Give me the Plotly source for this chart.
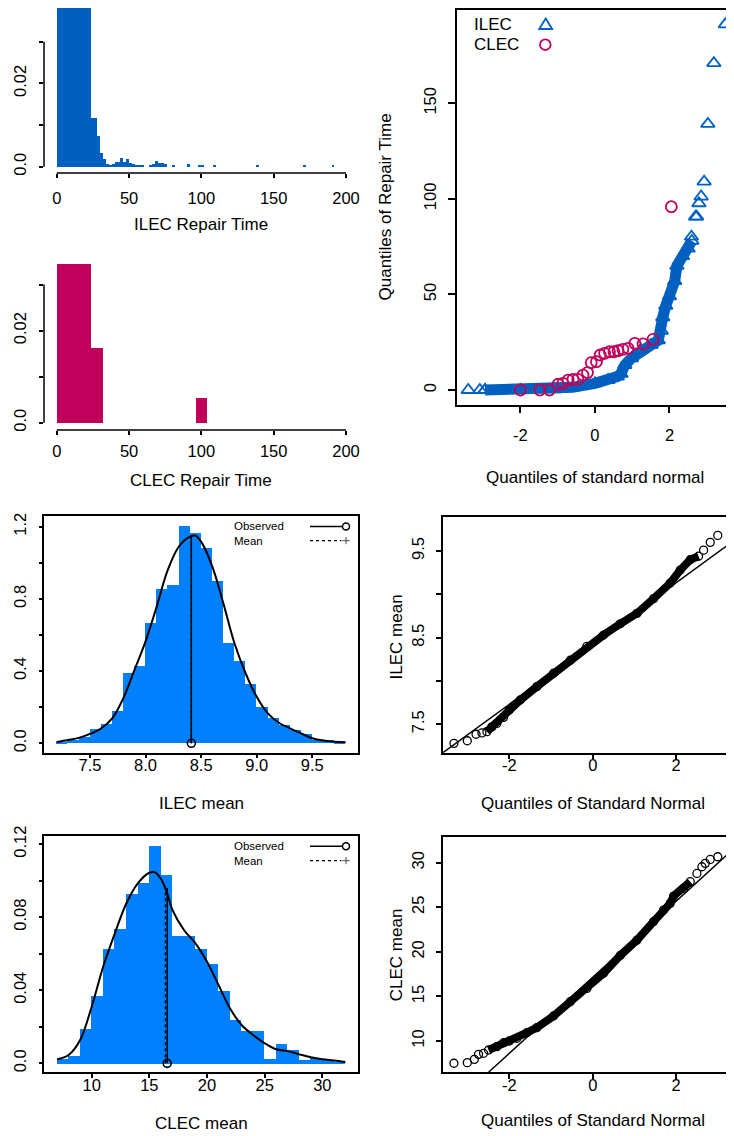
import plotly.graph_objects as go

# page is drawn with an 8px body margin; figure coordinates are page pixels minus OFF
OFF = 8
W, H = 734 - OFF, 1136 - OFF
FONT = "Liberation Sans, Arial, Helvetica, sans-serif"
BLUE_DARK = "#0060C0"
MAGENTA = "#C0005A"
BLUE_LIGHT = "#0080FF"

# ---------------- data ----------------
# Panel 1: ILEC repair-time histogram (density, bin width 2)
ilec_bin_width = 2
ilec_bin_left = [0, 2, 4, 6, 8, 10, 12, 14, 16, 18, 20, 22,
                 24, 26, 28, 30, 32, 34, 36, 38, 40, 42, 44, 46, 48, 50,
                 52, 54, 56, 58, 64, 66, 68, 70, 72, 74, 80, 90, 98, 100,
                 108, 138, 170, 190]
ilec_density = [0.046, 0.071, 0.078, 0.074, 0.066, 0.058, 0.052, 0.047, 0.044, 0.042, 0.040, 0.039,
                0.0117, 0.0117, 0.0074, 0.0034, 0.0018, 0.0006, 0.0003, 0.0006, 0.0012, 0.0012,
                0.0021, 0.0012, 0.0018, 0.0009,
                0.0006, 0.0003, 0.0003, 0.0003, 0.0003, 0.0006, 0.0015, 0.0009, 0.0009, 0.0006,
                0.0003, 0.0006, 0.0003, 0.0003,
                0.0003, 0.0003, 0.0003, 0.0003]

# Panel 2: CLEC repair-time histogram (density, bin width 8)
clec_bin_width = 8
clec_bin_left = [0, 8, 16, 24, 96]
clec_density = [0.0345, 0.0345, 0.0345, 0.0163, 0.0054]

rt_xticks = [0, 50, 100, 150, 200]
rt_yticks = [0, 0.01, 0.02, 0.03]
rt_ytext = ["0.0", "", "0.02", ""]

# Panel 3: normal QQ plot of repair times
ilec_qq_band_x = [-2.95, -2.0, -1.1, -0.6, 0.0, 0.35, 0.6, 0.7, 0.8, 0.98, 1.24, 1.5,
                  1.7, 1.78, 1.82, 1.9, 2.0, 2.14, 2.2, 2.35, 2.5, 2.6]
ilec_qq_band_y = [0, 0, 0.4, 1.4, 3.5, 5.2, 7.0, 8.5, 13.0, 16.6, 20.9, 23.5,
                  26.0, 31.0, 38.0, 44.0, 49.0, 57.0, 65.0, 70.0, 74.0, 78.0]
ilec_qq_tail_x = [-3.40, -3.09, -2.95, 2.59, 2.70, 2.73, 2.79, 2.85, 2.93, 3.03, 3.19, 3.50]
ilec_qq_tail_y = [0, 0, 0, 80.2, 90.7, 90.7, 97.7, 101.2, 109.0, 139.2, 171.0, 191.3]
clec_qq_x = [-2.0, -1.48, -1.22, -0.99, -0.86, -0.72, -0.59, -0.46, -0.32, -0.20, -0.10, 0.04,
             0.14, 0.26, 0.39, 0.51, 0.62, 0.75, 0.89, 1.07, 1.29, 1.56, 2.05]
clec_qq_y = [0, 0, 0, 3.0, 3.5, 5.2, 5.6, 5.6, 7.8, 9.1, 14.3, 14.8,
             18.3, 19.2, 20.0, 20.0, 20.6, 21.3, 21.8, 24.4, 24.1, 26.5, 95.9]
qq_xticks = [-2, 0, 2]
qq_rt_yticks = [0, 50, 100, 150]

# Panel 4: bootstrap distribution of ILEC mean
ilec_boot_bin_width = 0.1
ilec_boot_bin_left = [7.2, 7.3, 7.4, 7.5, 7.6, 7.7, 7.8, 7.9, 8.0, 8.1, 8.2, 8.3, 8.4,
                      8.5, 8.6, 8.7, 8.8, 8.9, 9.0, 9.1, 9.2, 9.3, 9.4, 9.5, 9.6, 9.7]
ilec_boot_density = [0.005, 0.02, 0.037, 0.08, 0.107, 0.18, 0.388, 0.43, 0.665, 0.855, 0.877, 1.205, 1.163,
                     1.084, 0.9, 0.558, 0.458, 0.329, 0.2, 0.142, 0.1, 0.074, 0.05, 0.018, 0.018, 0.005]
ilec_kde_x = [7.2, 7.3, 7.4, 7.5, 7.6, 7.7, 7.8, 7.9, 8.0, 8.1, 8.2, 8.3, 8.4, 8.45, 8.5,
              8.6, 8.7, 8.8, 8.9, 9.0, 9.1, 9.2, 9.3, 9.4, 9.5, 9.6, 9.7, 9.8]
ilec_kde_y = [0.007, 0.018, 0.03, 0.052, 0.083, 0.138, 0.25, 0.406, 0.565, 0.757, 0.96, 1.09, 1.145, 1.15, 1.117,
              0.98, 0.775, 0.554, 0.388, 0.258, 0.166, 0.114, 0.083, 0.055, 0.028, 0.015, 0.009, 0.006]
ilec_observed = 8.412
ilec_boot_mean = 8.41
ilec_line_top = 1.148
ilec_boot_xticks = [7.5, 8.0, 8.5, 9.0, 9.5]
ilec_boot_xtext = ["7.5", "8.0", "8.5", "9.0", "9.5"]
ilec_boot_yticks = [0, 0.2, 0.4, 0.6, 0.8, 1.0, 1.2]
ilec_boot_ytext = ["0.0", "", "0.4", "", "0.8", "", "1.2"]

# Panel 5: bootstrap distribution of CLEC mean
clec_boot_bin_width = 1
clec_boot_bin_left = list(range(7, 32))
clec_boot_density = [0.0027, 0.004, 0.0188, 0.0368, 0.063, 0.0739, 0.093, 0.099, 0.119, 0.103,
                     0.07, 0.07, 0.063, 0.0547, 0.0398, 0.024, 0.0179, 0.0179, 0.0027, 0.011,
                     0.0077, 0.0022, 0.0033, 0.0018, 0.001]
clec_kde_x = [7, 8, 9, 10, 11, 12, 13, 14, 15, 15.5, 16, 16.5, 17, 18, 19, 20, 21, 22, 23,
              24, 25, 26, 27, 28, 29, 30, 31, 32]
clec_kde_y = [0.0022, 0.0046, 0.0128, 0.031, 0.053, 0.071, 0.0875, 0.0985, 0.1043, 0.1045, 0.101,
              0.094, 0.084, 0.073, 0.0657, 0.0556, 0.0429, 0.030, 0.021, 0.0155, 0.011, 0.0077,
              0.0067, 0.0049, 0.0033, 0.0022, 0.0015, 0.0007]
clec_observed = 16.55
clec_boot_mean = 16.4
clec_line_top = 0.096
clec_boot_xticks = [10, 15, 20, 25, 30]
clec_boot_yticks = [0, 0.02, 0.04, 0.06, 0.08, 0.10, 0.12]
clec_boot_ytext = ["0.0", "", "0.04", "", "0.08", "", "0.12"]

# Panel 6: normal QQ of ILEC bootstrap means
ilec_bq_band_x = [-2.54, -2.42, -2.3, -2.14, -2.0, -1.74, -1.34, -0.94, -0.54, -0.14, 0.26,
                  0.66, 1.06, 1.46, 1.86, 2.1, 2.34, 2.54]
ilec_bq_band_y = [7.415, 7.47, 7.51, 7.58, 7.665, 7.78, 7.935, 8.09, 8.24, 8.40, 8.53,
                  8.66, 8.78, 8.95, 9.13, 9.28, 9.40, 9.44]
ilec_bq_tail_x = [-3.33, -3.01, -2.8, -2.66, 2.66, 2.82, 3.0, 3.32]
ilec_bq_tail_y = [7.28, 7.31, 7.385, 7.40, 9.51, 9.60, 9.68, 9.79]
ilec_qqline_x = [-3.6, 3.39]
ilec_qqline_y = [7.17, 9.62]
ilec_bq_yticks = [7.5, 8.0, 8.5, 9.0, 9.5]
ilec_bq_ytext = ["7.5", "", "8.5", "", "9.5"]

# Panel 7: normal QQ of CLEC bootstrap means
clec_bq_band_x = [-2.5, -2.3, -2.14, -2.0, -1.82, -1.58, -1.34, -0.94, -0.54, -0.14, 0.26,
                  0.66, 1.06, 1.46, 1.7, 1.86, 1.94, 2.18, 2.34]
clec_bq_band_y = [8.99, 9.36, 9.81, 10.0, 10.3, 10.93, 11.5, 12.8, 14.4, 15.9, 17.6,
                  19.6, 21.3, 23.4, 24.69, 25.44, 26.26, 27.12, 27.87]
clec_bq_tail_x = [-3.33, -3.01, -2.84, -2.74, -2.62, 2.5, 2.62, 2.70, 2.82, 3.0, 3.32]
clec_bq_tail_y = [7.5, 7.57, 7.94, 8.5, 8.62, 28.8, 29.55, 29.93, 30.37, 30.67, 31.87]
clec_qqline_x = [-2.5, 3.39]
clec_qqline_y = [6.49, 31.6]
clec_bq_yticks = [10, 15, 20, 25, 30]


# ---------------- helpers ----------------
def px(x):
    return (x - OFF) / W


def py(y):
    return 1 - (y - OFF) / H


def dom_x(a, b):
    return [max(0, px(a)), min(1, px(b))]


def dom_y(top, bottom):
    return [max(0, py(bottom)), min(1, py(top))]


TICKFONT = dict(family=FONT, size=16.5, color="black")


def axis(domain, rng, tickvals, ticktext, anchor, ticklen, standoff, angle=0,
         showline=False, mirror=False):
    d = dict(domain=domain, range=rng, tickmode="array", tickvals=tickvals,
             ticktext=ticktext if ticktext is not None else [str(v) for v in tickvals],
             anchor=anchor, ticks="outside", ticklen=ticklen, tickwidth=1.5,
             tickcolor="black", tickfont=TICKFONT, tickangle=angle,
             showgrid=False, zeroline=False, fixedrange=True, automargin=False,
             ticklabelstandoff=standoff,
             showline=showline, linecolor="black", linewidth=1.5, mirror=mirror)
    return d


def bars(left, width, dens, color, xa, ya):
    return go.Bar(x=[l + width / 2 for l in left], y=dens, width=[width] * len(left),
                  marker=dict(color=color, line=dict(width=0)), xaxis=xa, yaxis=ya,
                  hoverinfo="skip")


fig = go.Figure()

# Panel 1
fig.add_trace(bars(ilec_bin_left, ilec_bin_width, ilec_density, BLUE_DARK, "x", "y"))
# Panel 2
fig.add_trace(bars(clec_bin_left, clec_bin_width, clec_density, MAGENTA, "x2", "y2"))

# Panel 3
fig.add_trace(go.Scatter(x=ilec_qq_band_x, y=ilec_qq_band_y, mode="lines+markers",
                         line=dict(color=BLUE_DARK, width=11),
                         marker=dict(symbol="triangle-up-open", size=12, color=BLUE_DARK,
                                     line=dict(width=1.8, color=BLUE_DARK)),
                         xaxis="x3", yaxis="y3"))
fig.add_trace(go.Scatter(x=ilec_qq_tail_x, y=ilec_qq_tail_y, mode="markers",
                         marker=dict(symbol="triangle-up-open", size=12, color=BLUE_DARK,
                                     line=dict(width=1.8, color=BLUE_DARK)),
                         xaxis="x3", yaxis="y3"))
fig.add_trace(go.Scatter(x=clec_qq_x, y=clec_qq_y, mode="markers",
                         marker=dict(symbol="circle-open", size=11, color=MAGENTA,
                                     line=dict(width=1.8, color=MAGENTA)),
                         xaxis="x3", yaxis="y3"))

# Panel 4
fig.add_trace(bars(ilec_boot_bin_left, ilec_boot_bin_width, ilec_boot_density, BLUE_LIGHT, "x4", "y4"))
fig.add_trace(go.Scatter(x=ilec_kde_x, y=ilec_kde_y, mode="lines", line=dict(color="black", width=2, shape="spline"),
                         xaxis="x4", yaxis="y4"))
fig.add_trace(go.Scatter(x=[ilec_boot_mean, ilec_boot_mean], y=[0, ilec_line_top], mode="lines",
                         line=dict(color="black", width=1.5, dash="dot"), xaxis="x4", yaxis="y4"))
fig.add_trace(go.Scatter(x=[ilec_observed, ilec_observed], y=[0, ilec_line_top], mode="lines",
                         line=dict(color="black", width=1.5), xaxis="x4", yaxis="y4"))
fig.add_trace(go.Scatter(x=[ilec_observed], y=[0], mode="markers",
                         marker=dict(symbol="circle-open", size=8, color="black", line=dict(width=1.6)),
                         xaxis="x4", yaxis="y4", cliponaxis=False))

# Panel 5
fig.add_trace(bars(clec_boot_bin_left, clec_boot_bin_width, clec_boot_density, BLUE_LIGHT, "x5", "y5"))
fig.add_trace(go.Scatter(x=clec_kde_x, y=clec_kde_y, mode="lines", line=dict(color="black", width=2, shape="spline"),
                         xaxis="x5", yaxis="y5"))
fig.add_trace(go.Scatter(x=[clec_boot_mean, clec_boot_mean], y=[0, clec_line_top], mode="lines",
                         line=dict(color="black", width=1.5, dash="dot"), xaxis="x5", yaxis="y5"))
fig.add_trace(go.Scatter(x=[clec_observed, clec_observed], y=[0, clec_line_top], mode="lines",
                         line=dict(color="black", width=1.5), xaxis="x5", yaxis="y5"))
fig.add_trace(go.Scatter(x=[clec_observed], y=[0], mode="markers",
                         marker=dict(symbol="circle-open", size=8, color="black", line=dict(width=1.6)),
                         xaxis="x5", yaxis="y5", cliponaxis=False))

# Panel 6
fig.add_trace(go.Scatter(x=ilec_qqline_x, y=ilec_qqline_y, mode="lines",
                         line=dict(color="black", width=1.5), xaxis="x6", yaxis="y6"))
fig.add_trace(go.Scatter(x=ilec_bq_band_x, y=ilec_bq_band_y, mode="lines+markers",
                         line=dict(color="black", width=8),
                         marker=dict(symbol="circle-open", size=8, color="black", line=dict(width=1.3)),
                         xaxis="x6", yaxis="y6"))
fig.add_trace(go.Scatter(x=ilec_bq_tail_x, y=ilec_bq_tail_y, mode="markers",
                         marker=dict(symbol="circle-open", size=8, color="black", line=dict(width=1.3)),
                         xaxis="x6", yaxis="y6"))

# Panel 7
fig.add_trace(go.Scatter(x=clec_qqline_x, y=clec_qqline_y, mode="lines",
                         line=dict(color="black", width=1.5), xaxis="x7", yaxis="y7"))
fig.add_trace(go.Scatter(x=clec_bq_band_x, y=clec_bq_band_y, mode="lines+markers",
                         line=dict(color="black", width=8),
                         marker=dict(symbol="circle-open", size=8, color="black", line=dict(width=1.3)),
                         xaxis="x7", yaxis="y7"))
fig.add_trace(go.Scatter(x=clec_bq_tail_x, y=clec_bq_tail_y, mode="markers",
                         marker=dict(symbol="circle-open", size=8, color="black", line=dict(width=1.3)),
                         xaxis="x7", yaxis="y7"))

layout = dict(
    template="none",
    width=W, height=H, autosize=False, margin=dict(l=0, r=0, t=0, b=0, pad=0),
    paper_bgcolor="white", plot_bgcolor="white", showlegend=False, bargap=0,
    font=dict(family=FONT, color="black"),
)

# axes
layout["xaxis"] = axis(dom_x(44, 357.6), [-8.8, 208], rt_xticks, None, "y", 4, 6)
layout["yaxis"] = axis(dom_y(8, 173), [-0.0015, 0.0381], rt_yticks, rt_ytext, "x", 4, 6, angle=-90)
layout["xaxis2"] = axis(dom_x(44, 357.6), [-8.8, 208], rt_xticks, None, "y2", 4, 2)
layout["yaxis2"] = axis(dom_y(257, 430), [-0.0016, 0.036], rt_yticks, rt_ytext, "x2", 4, 6, angle=-90)
layout["xaxis3"] = axis(dom_x(456.7, 731.7), [-3.71, 3.67], qq_xticks, None, "y3", 6.5, 8,
                        showline=True, mirror=True)
layout["yaxis3"] = axis(dom_y(10, 405), [-7.85, 198.8], qq_rt_yticks, None, "x3", 6.5, 6, angle=-90,
                        showline=True, mirror=True)
layout["xaxis4"] = axis(dom_x(44.3, 358.3), [7.089, 9.914], ilec_boot_xticks, ilec_boot_xtext, "y4", 4, -7,
                        showline=True, mirror=True)
layout["yaxis4"] = axis(dom_y(516, 752.7), [-0.052, 1.259], ilec_boot_yticks, ilec_boot_ytext, "x4", 4, 6,
                        angle=-90, showline=True, mirror=True)
layout["xaxis5"] = axis(dom_x(44.3, 358.3), [5.89, 33.12], clec_boot_xticks, None, "y5", 4, -7,
                        showline=True, mirror=True)
layout["yaxis5"] = axis(dom_y(835.7, 1072.3), [-0.0049, 0.1246], clec_boot_yticks, clec_boot_ytext, "x5", 4, 6,
                        angle=-90, showline=True, mirror=True)
layout["xaxis6"] = axis(dom_x(442.7, 734), [-3.6, 3.39], qq_xticks, None, "y6", 5, -8,
                        showline=True, mirror=True)
layout["yaxis6"] = axis(dom_y(516.7, 752.7), [7.172, 9.896], ilec_bq_yticks, ilec_bq_ytext, "x6", 5, 5,
                        angle=-90, showline=True)
layout["xaxis7"] = axis(dom_x(442.7, 734), [-3.6, 3.39], qq_xticks, None, "y7", 5, -8,
                        showline=True, mirror=True)
layout["yaxis7"] = axis(dom_y(836.7, 1072.3), [6.486, 32.92], clec_bq_yticks, None, "x7", 5, 5,
                        angle=-90, showline=True)

# partial axis lines (R style) for panels 1 and 2
shapes = []
for xr, yr in (("x", "y"), ("x2", "y2")):
    shapes.append(dict(type="line", xref=xr, yref=yr + " domain", x0=min(rt_xticks), x1=max(rt_xticks),
                       y0=0, y1=0, line=dict(color="black", width=1.5)))
    shapes.append(dict(type="line", xref=xr + " domain", yref=yr, x0=0, x1=0,
                       y0=min(rt_yticks), y1=max(rt_yticks), line=dict(color="black", width=1.5)))

# legend keys (panel 3)
shapes.append(dict(type="path", xref="paper", yref="paper", xsizemode="pixel", ysizemode="pixel",
                   xanchor=px(545.7), yanchor=py(25), path="M -6.5 -4 L 6.5 -4 L 0 6.5 Z",
                   line=dict(color=BLUE_DARK, width=1.8)))
shapes.append(dict(type="circle", xref="paper", yref="paper", xsizemode="pixel", ysizemode="pixel",
                   xanchor=px(545.3), yanchor=py(44.7), x0=-5.3, x1=5.3, y0=-5.3, y1=5.3,
                   line=dict(color=MAGENTA, width=1.8)))

# legend keys (panels 4 and 5)
for y_obs, y_mean in ((526.5, 540.7), (846.3, 860.7)):
    shapes.append(dict(type="line", xref="paper", yref="paper", x0=px(310), x1=px(342.5),
                       y0=py(y_obs), y1=py(y_obs), line=dict(color="black", width=1.5)))
    shapes.append(dict(type="circle", xref="paper", yref="paper", xsizemode="pixel", ysizemode="pixel",
                       xanchor=px(346), yanchor=py(y_obs), x0=-3.5, x1=3.5, y0=-3.5, y1=3.5,
                       line=dict(color="black", width=1.5)))
    shapes.append(dict(type="line", xref="paper", yref="paper", x0=px(310), x1=px(341.5),
                       y0=py(y_mean), y1=py(y_mean), line=dict(color="black", width=1.3, dash="dot")))
    shapes.append(dict(type="line", xref="paper", yref="paper", xsizemode="pixel", ysizemode="pixel",
                       xanchor=px(346), yanchor=py(y_mean), x0=-3.5, x1=3.5, y0=0, y1=0,
                       line=dict(color="#444444", width=1)))
    shapes.append(dict(type="line", xref="paper", yref="paper", xsizemode="pixel", ysizemode="pixel",
                       xanchor=px(346), yanchor=py(y_mean), x0=0, x1=0, y0=-3.5, y1=3.5,
                       line=dict(color="#444444", width=1)))
layout["shapes"] = shapes


def ann(text, x, y, size=17, angle=0, xanchor="center"):
    return dict(text=text, x=px(x), y=py(y), xref="paper", yref="paper", showarrow=False,
                xanchor=xanchor, yanchor="middle", textangle=angle,
                font=dict(family=FONT, size=size, color="black"))


layout["annotations"] = [
    ann("ILEC Repair Time", 200.5, 225),
    ann("CLEC Repair Time", 200.5, 480),
    ann("Quantiles of Repair Time", 385, 207.5, angle=-90),
    ann("Quantiles of standard normal", 595, 477),
    ann("ILEC", 471.7, 24.5, xanchor="left"),
    ann("CLEC", 471.7, 45, xanchor="left"),
    ann("ILEC mean", 201.3, 803),
    ann("CLEC mean", 201.3, 1123),
    ann("Observed", 232.3, 526, size=11.5, xanchor="left"),
    ann("Mean", 232.3, 540.5, size=11.5, xanchor="left"),
    ann("Observed", 232.3, 846, size=11.5, xanchor="left"),
    ann("Mean", 232.3, 860.5, size=11.5, xanchor="left"),
    ann("ILEC mean", 396.7, 636.7, angle=-90),
    ann("Quantiles of Standard Normal", 592.7, 803.3),
    ann("CLEC mean", 396.7, 954.5, angle=-90),
    ann("Quantiles of Standard Normal", 592.7, 1120),
]

fig.update_layout(**layout)
fig.write_html("out.html")
